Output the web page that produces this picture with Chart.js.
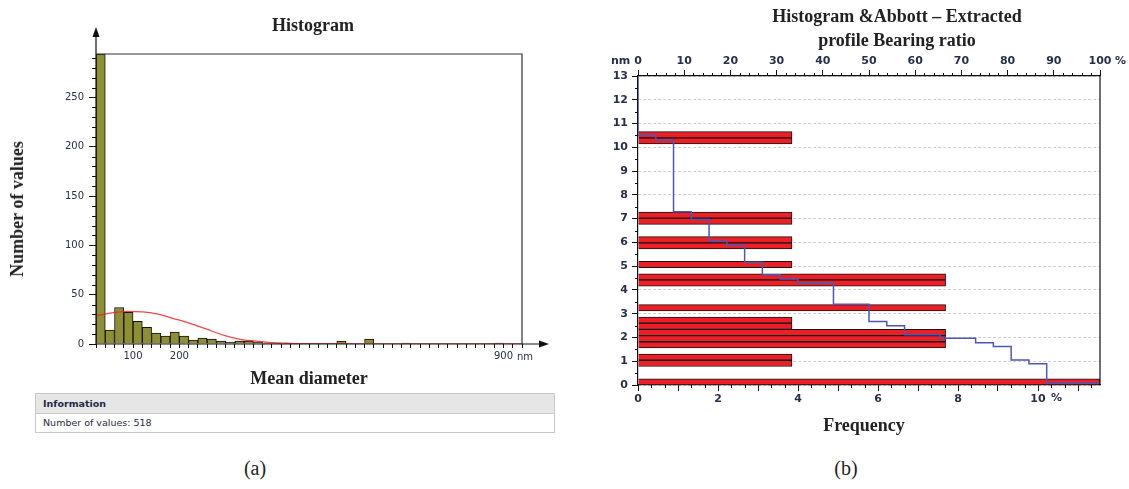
<!DOCTYPE html>
<html><head><meta charset="utf-8">
<script src="https://cdn.jsdelivr.net/npm/chart.js@4.4.0/dist/chart.umd.min.js"></script>
<style>
html,body{margin:0;padding:0;background:#fff;width:1129px;height:489px;overflow:hidden;}
body{position:relative;}
canvas{position:absolute;}
.t{position:absolute;font-family:"Liberation Serif","Times New Roman",serif;font-weight:bold;font-size:18px;color:#222;white-space:nowrap;transform:translate(-50%,-50%);line-height:1;}
.lab{position:absolute;font-family:"Liberation Serif","Times New Roman",serif;font-size:20px;color:#222;transform:translate(-50%,-50%);line-height:1;}
.u{position:absolute;font-family:"DejaVu Sans",sans-serif;font-size:10px;color:#27304a;line-height:1;white-space:nowrap;}
.ub{font-weight:bold;font-size:11px;}
</style></head><body>
<canvas id="ca" width="570" height="390" style="left:0;top:0"></canvas>
<canvas id="cb" width="549" height="440" style="left:580px;top:0"></canvas>

<div class="t" style="left:313px;top:25px">Histogram</div>
<div class="t" style="left:17px;top:209px;transform:translate(-50%,-50%) rotate(-90deg)">Number of values</div>
<div class="t" style="left:309px;top:378px">Mean diameter</div>
<div class="u" style="left:517px;top:352px">nm</div>

<div id="info" style="position:absolute;left:35px;top:393px;width:518px;border:1px solid #c9c9c9;font-family:'DejaVu Sans',sans-serif;font-size:9.5px;color:#1f2a44;">
  <div style="background:#e6e6e6;height:19px;line-height:19px;padding-left:7px;font-weight:bold;border-bottom:1px solid #c9c9c9;">Information</div>
  <div style="height:18px;line-height:18px;padding-left:7px;">Number of values: 518</div>
</div>

<div class="t" style="left:897px;top:16px">Histogram &amp;Abbott – Extracted</div>
<div class="t" style="left:897px;top:40px">profile Bearing ratio</div>
<div class="t" style="left:864px;top:425px">Frequency</div>
<div class="u ub" style="left:611px;top:55px">nm</div>
<div class="u ub" style="left:1115px;top:55px">%</div>
<div class="u ub" style="left:1051px;top:392px">%</div>

<div class="lab" style="left:255px;top:468px">(a)</div>
<div class="lab" style="left:846px;top:468px">(b)</div>

<script>
// ---------- Panel (a) data ----------
const diameterBins = [30,50,70,90,110,130,150,170,190,210,230,250,270,290,310,330,350,370,390,410,
  430,450,470,490,510,530,550,570,590,610,630,650,670,690,710,730,750,770,790,810,830,850,870,890,910,930];
const diameterCounts = [294,14,37,32,23,17,11,8,12,8,4,6,5,3,2,3,3,2,1,1,
  0,0,0,0,0,0,3,0,0,5,0,0,0,1,0,0,0,0,0,0,0,0,0,1,0,0];
const fitNm    = [20, 50, 88, 120, 151, 194, 223, 259, 295, 331, 367, 402, 439, 500, 600, 940];
const fitCount = [28.5, 31.3, 33, 32.5, 30.5, 25, 21, 15, 9, 4.8, 3, 1.3, 0.7, 0.3, 0, 0];
const xLabelsA = [100, 200, 900];

// ---------- Panel (b) data ----------
const heightBins = [0.13,0.39,0.65,0.91,1.17,1.43,1.69,1.95,2.21,2.47,2.73,2.99,3.25,3.51,3.77,4.03,4.29,4.55,4.81,5.07,
  5.33,5.59,5.85,6.11,6.37,6.63,6.89,7.15,7.41,7.67,7.93,8.19,8.45,8.71,8.97,9.23,9.49,9.75,10.01,10.27,
  10.53,10.79,11.05,11.31,11.57,11.83,12.09,12.35,12.61,12.87];
const heightFreq = [11.54,0,0,3.85,3.85,0,7.69,7.69,7.69,3.85,3.85,0,7.69,0,0,0,7.69,7.69,0,3.85,
  0,0,3.85,3.85,0,0,3.85,3.85,0,0,0,0,0,0,0,0,0,0,0,3.85,
  3.85,0,0,0,0,0,0,0,0,0];
const abbottHeight = [13, 10.50, 10.31, 7.29, 6.96, 6.05, 5.87, 5.16, 4.64, 4.46, 4.29, 3.40, 2.67, 2.49, 2.11, 1.97, 1.78, 1.62, 1.05, 0.89, 0.07];
const abbottPct    = [0, 3.85, 7.69, 11.54, 15.38, 19.23, 23.08, 26.92, 30.77, 34.62, 42.31, 50.0, 53.85, 57.69, 65.38, 73.08, 76.92, 80.77, 84.62, 88.46, 100];
const freqLabels = [0, 2, 4, 6, 8, 10];

const tickColor = '#27304a';

// ---------- Chart (a) ----------
const frameA = {
  id: 'frameA',
  afterDraw(chart) {
    const {ctx, chartArea: a} = chart;
    const ys = chart.scales.y;
    ctx.save();
    ctx.strokeStyle = '#111'; ctx.fillStyle = '#111'; ctx.lineWidth = 1.2;
    ctx.beginPath();
    ctx.moveTo(a.left, a.bottom); ctx.lineTo(a.left, a.top - 20);
    ctx.moveTo(a.left, a.bottom); ctx.lineTo(a.right + 20, a.bottom);
    for (let v = 10; v < ys.max; v += 10) {
      if (v % 50) { const y = Math.round(ys.getPixelForValue(v)) + 0.5; ctx.moveTo(a.left - 4, y); ctx.lineTo(a.left, y); }
    }
    ctx.stroke();
    ctx.strokeStyle = '#333';
    ctx.beginPath();
    ctx.moveTo(a.left, a.top); ctx.lineTo(a.right, a.top); ctx.lineTo(a.right, a.bottom);
    ctx.stroke();
    ctx.beginPath(); ctx.moveTo(a.left, a.top - 27); ctx.lineTo(a.left - 3.5, a.top - 17); ctx.lineTo(a.left + 3.5, a.top - 17); ctx.closePath(); ctx.fill();
    ctx.beginPath(); ctx.moveTo(a.right + 27, a.bottom); ctx.lineTo(a.right + 17, a.bottom - 3.5); ctx.lineTo(a.right + 17, a.bottom + 3.5); ctx.closePath(); ctx.fill();
    ctx.restore();
  }
};

new Chart(document.getElementById('ca'), {
  type: 'bar',
  data: {
    datasets: [
      {
        type: 'line', order: 0,
        data: fitNm.map((x, i) => ({x, y: fitCount[i]})),
        borderColor: 'rgba(235,40,40,0.85)', borderWidth: 1.3,
        pointRadius: 0, cubicInterpolationMode: 'monotone', fill: false
      },
      {
        type: 'bar', order: 1,
        data: diameterBins.map((x, i) => ({x, y: diameterCounts[i]})),
        backgroundColor: '#8e8e34', borderColor: '#111', borderWidth: 1,
        barPercentage: 1, categoryPercentage: 1
      }
    ]
  },
  options: {
    responsive: false, animation: false, devicePixelRatio: 1,
    layout: {padding: {left: 56, top: 54, right: 48, bottom: 22}},
    plugins: {legend: {display: false}, tooltip: {enabled: false}},
    scales: {
      x: {
        type: 'linear', min: 20, max: 940, offset: false,
        afterFit: s => { s.height = 24; },
        border: {display: false},
        grid: {display: true, drawOnChartArea: false, drawTicks: true, tickLength: 4, color: '#111', offset: false},
        ticks: {stepSize: 20, autoSkip: false, maxRotation: 0, maxTicksLimit: 200, padding: 2,
          color: tickColor, font: {family: 'DejaVu Sans', size: 10},
          callback: v => xLabelsA.includes(v) ? String(v) : ''}
      },
      y: {
        type: 'linear', min: 0, max: 294,
        afterFit: s => { s.width = 40; },
        border: {display: false},
        grid: {display: true, drawOnChartArea: false, drawTicks: true, tickLength: 7, color: '#111'},
        ticks: {stepSize: 50, includeBounds: false, padding: 5, color: tickColor, font: {family: 'DejaVu Sans', size: 10}}
      }
    }
  },
  plugins: [frameA]
});

// ---------- Chart (b) ----------
const frameB = {
  id: 'frameB',
  afterDraw(chart) {
    const {ctx, chartArea: a, scales} = chart;
    ctx.save();
    ctx.strokeStyle = '#111'; ctx.lineWidth = 1.2;
    ctx.beginPath();
    ctx.moveTo(a.right, a.top); ctx.lineTo(a.right, a.bottom);
    ctx.stroke();
    ctx.lineWidth = 1;
    ctx.beginPath();
    for (let v = 0.5; v < 13; v += 1) {
      const y = Math.round(scales.y.getPixelForValue(v)) + 0.5; ctx.moveTo(a.left - 3, y); ctx.lineTo(a.left, y);
    }
    for (let k = 1; k * (1/3) < scales.x.max; k++) {
      if (k % 3 === 0) continue;
      const x = Math.round(scales.x.getPixelForValue(k / 3)) + 0.5; ctx.moveTo(x, a.bottom); ctx.lineTo(x, a.bottom + 3);
    }
    for (let v = 2; v < 100; v += 2) {
      if (v % 10 === 0) continue;
      const x = Math.round(scales.x2.getPixelForValue(v)) + 0.5; ctx.moveTo(x, a.top); ctx.lineTo(x, a.top - 3);
    }
    ctx.stroke();
    ctx.restore();
  }
};

new Chart(document.getElementById('cb'), {
  type: 'bar',
  data: {
    datasets: [
      {
        type: 'line', order: 0, indexAxis: 'x', xAxisID: 'x2', yAxisID: 'y',
        data: abbottPct.map((x, i) => ({x, y: abbottHeight[i]})),
        borderColor: '#4d57b4', borderWidth: 1.5, stepped: 'after',
        pointRadius: 0, fill: false
      },
      {
        type: 'bar', order: 1, xAxisID: 'x', yAxisID: 'y',
        data: heightBins.map((y, i) => ({x: heightFreq[i], y})),
        backgroundColor: '#ec1f26', borderColor: '#151515', borderWidth: 1,
        barPercentage: 1, categoryPercentage: 1
      }
    ]
  },
  options: {
    indexAxis: 'y',
    responsive: false, animation: false, devicePixelRatio: 1,
    layout: {padding: {left: 0, top: 56, right: 29, bottom: 31}},
    plugins: {legend: {display: false}, tooltip: {enabled: false}},
    scales: {
      y: {
        type: 'linear', position: 'left', min: 0, max: 13, offset: false,
        afterFit: s => { s.width = 58; },
        border: {display: true, color: '#111', width: 1.2, dash: [3, 2]},
        grid: {display: true, drawOnChartArea: true, drawTicks: true, tickLength: 6,
          color: '#cdcdcd', tickColor: '#111', tickBorderDash: [], offset: false},
        ticks: {stepSize: 1, padding: 4, color: tickColor, font: {family: 'DejaVu Sans', size: 11, weight: 'bold'}}
      },
      x: {
        type: 'linear', position: 'bottom', min: 0, max: 11.55,
        afterFit: s => { s.height = 24; },
        border: {display: true, color: '#111', width: 1.2},
        grid: {display: true, drawOnChartArea: false, drawTicks: true, tickLength: 6, color: '#111'},
        ticks: {stepSize: 1, includeBounds: false, autoSkip: false, maxRotation: 0, padding: 2,
          color: tickColor, font: {family: 'DejaVu Sans', size: 11, weight: 'bold'},
          callback: v => freqLabels.includes(v) ? String(v) : ''}
      },
      x2: {
        type: 'linear', position: 'top', min: 0, max: 100,
        afterFit: s => { s.height = 20; },
        border: {display: true, color: '#111', width: 1.2},
        grid: {display: true, drawOnChartArea: false, drawTicks: true, tickLength: 6, color: '#111'},
        ticks: {stepSize: 10, autoSkip: false, maxRotation: 0, padding: 2,
          color: tickColor, font: {family: 'DejaVu Sans', size: 11, weight: 'bold'}}
      }
    }
  },
  plugins: [frameB]
});
</script>
</body></html>
